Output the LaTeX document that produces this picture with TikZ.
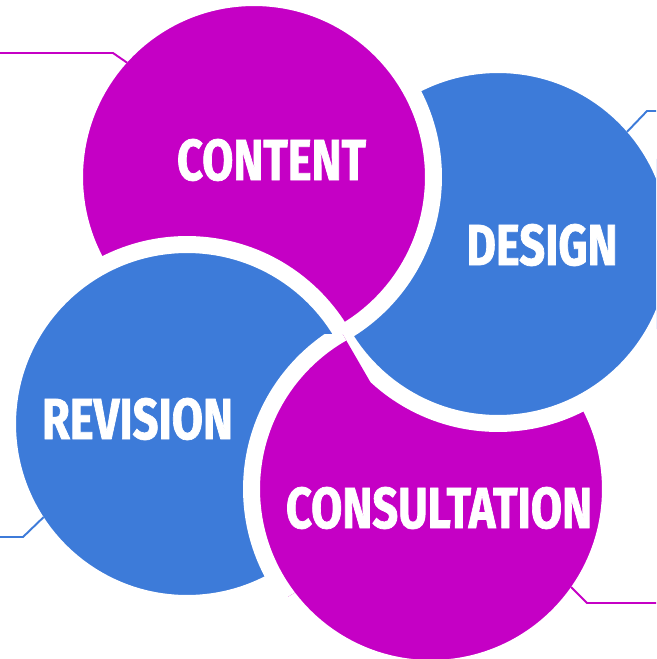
\documentclass[tikz,border=0pt]{standalone}
\usepackage{fontspec}
\newfontfamily\labelfont[FakeStretch=0.78,FakeBold=1.2]{Fira Sans}
\definecolor{petalmag}{RGB}{197,0,197}
\definecolor{petalblue}{RGB}{61,123,217}
\tikzset{
  bubble/.style={circle,fill=#1,draw=white,line width=0.34cm,minimum size=7.18cm,inner sep=0pt,outer sep=-0.17cm},
  word/.style={text=white,font=\labelfont\bfseries\fontsize{33}{33}\selectfont,inner sep=0pt},
  link/.style={line width=1.1pt}
}
\begin{document}
\begin{tikzpicture}[x=0.02cm,y=-0.02cm]
	\useasboundingbox (0,0) rectangle (656,659);
	\clip (0,0) rectangle (656,659);
	% four circles, drawn bottom to top
	\node[bubble=petalmag] (consultation) at (431,489) {};
	\node[bubble=petalblue] (design) at (498,244) {};
	\node[bubble=petalmag] (content) at (254,177) {};
	\node[bubble=petalblue] (revision) at (187,424) {};
	% consultation lies over revision
	\begin{scope}
		\clip (revision.center) circle[radius=200];
		\clip (0,334) -- (342.5,334) -- (558.5,707) -- (0,707) -- cycle;
		\node[bubble=petalmag] (consultationtop) at (consultation.center) {};
	\end{scope}
	% labels
	\node[word] (contentlabel) at (271.5,160) {CONTENT};
	\node[word] (designlabel) at (542,245) {DESIGN};
	\node[word] (revisionlabel) at (137.5,419) {REVISION};
	\node[word] (consultationlabel) at (439,508) {CONSULTATION};
	% connectors
	\coordinate (ca) at (113,53);
	\coordinate (cb) at (0,53);
	\coordinate (da) at (647,111);
	\coordinate (db) at (656,111);
	\coordinate (ra) at (23,537);
	\coordinate (rb) at (0,537);
	\coordinate (sa) at (587,603);
	\coordinate (sb) at (656,603);
	\draw[link,petalmag] (content.138) -- (ca) -- (cb);
	\draw[link,petalblue] (design.41) -- (da) -- (db);
	\draw[link,petalblue] (revision.213) -- (ra) -- (rb);
	\draw[link,petalmag] (consultation.325) -- (sa) -- (sb);
\end{tikzpicture}
\end{document}
